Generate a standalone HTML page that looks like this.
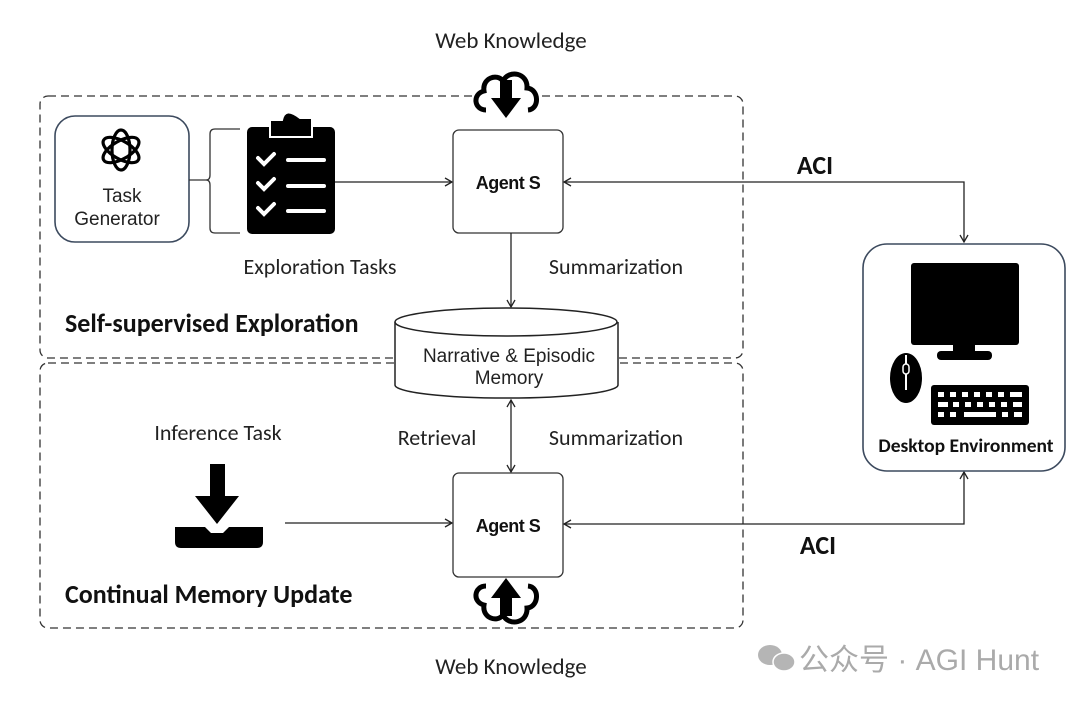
<!DOCTYPE html>
<html><head><meta charset="utf-8"><style>
html,body{margin:0;padding:0;background:#fff}
svg{display:block}
text{font-family:"Liberation Sans",sans-serif}
.c{font-family:"Carlito","Liberation Sans",sans-serif}
</style></head><body>
<svg width="1080" height="703" viewBox="0 0 1080 703" xmlns="http://www.w3.org/2000/svg">
<defs>
<marker id="a" markerWidth="10" markerHeight="10" refX="8" refY="5" orient="auto-start-reverse" markerUnits="userSpaceOnUse">
<path d="M1,1 L8,5 L1,9" fill="none" stroke="#222" stroke-width="1.3"/></marker>
<g id="cloud">
<path d="M-20,16 C-32,16 -34,0 -22,-3 C-24,-16 -9,-21 -3,-13 C3,-25 22,-21 21,-6 C33,-5 34,15 22,16" fill="#fff" stroke="#000" stroke-width="5"/>
</g>
</defs>
<rect x="40" y="96" width="703" height="262" rx="8" fill="none" stroke="#333" stroke-width="1.3" stroke-dasharray="8,5"/>
<rect x="40" y="363" width="703" height="265" rx="8" fill="none" stroke="#333" stroke-width="1.3" stroke-dasharray="8,5"/>

<use href="#cloud" x="506" y="94"/>
<path d="M500,80 h12 v18 h9 l-15,20 l-15,-20 h9 z" fill="#000"/>
<text x="511" y="48" font-size="23" text-anchor="middle" fill="#222" class="c">Web Knowledge</text>

<g transform="translate(506,602) scale(1,-1)"><use href="#cloud"/></g>
<path d="M500,616 h12 v-18 h9 l-15,-20 l-15,20 h9 z" fill="#000"/>
<text x="511" y="674" font-size="23" text-anchor="middle" fill="#222" class="c">Web Knowledge</text>

<rect x="55" y="116" width="134" height="126" rx="20" fill="#fff" stroke="#3c4a5e" stroke-width="1.6"/>
<g transform="translate(121,150)" fill="none" stroke="#000" stroke-width="3.2">
<ellipse rx="9" ry="20"/><ellipse rx="9" ry="20" transform="rotate(60)"/><ellipse rx="9" ry="20" transform="rotate(120)"/>
</g>
<text x="122" y="202" font-size="19" text-anchor="middle" fill="#222">Task</text>
<text x="117" y="225" font-size="19" text-anchor="middle" fill="#222">Generator</text>
<path d="M189,180 H207 M240,129 H215 Q210,129 210,134 V175 Q210,180 206,180 Q210,180 210,185 V228 Q210,233 215,233 H240" fill="none" stroke="#333" stroke-width="1.3"/>
<rect x="247" y="127" width="88" height="107" rx="5" fill="#000"/>
<path d="M270,137 V120 h12 q3,-14 18,-2 h12 v19 z" fill="#000" stroke="#fff" stroke-width="2"/>
<g stroke="#fff" stroke-width="4" fill="none" stroke-linecap="round">
<path d="M258,158 l6,6 l10,-10 M258,183 l6,6 l10,-10 M258,208 l6,6 l10,-10"/>
<path d="M288,160 H324 M288,186 H324 M288,211 H324"/>
</g>
<text x="320" y="274" font-size="22" text-anchor="middle" fill="#222" class="c">Exploration Tasks</text>
<line x1="335" y1="182" x2="452" y2="182" stroke="#222" stroke-width="1.3" marker-end="url(#a)"/>

<rect x="453" y="130" width="110" height="103" rx="6" fill="#fff" stroke="#333" stroke-width="1.3"/>
<text x="508" y="189" font-size="18" font-weight="bold" text-anchor="middle" fill="#111" letter-spacing="-0.5">Agent S</text>
<line x1="511" y1="233" x2="511" y2="307" stroke="#222" stroke-width="1.3" marker-end="url(#a)"/>
<text x="616" y="274" font-size="22" text-anchor="middle" fill="#222" class="c">Summarization</text>
<text x="65" y="332" font-size="26" font-weight="bold" fill="#111" class="c">Self-supervised Exploration</text>

<path d="M395,322 V385 A111,13 0 0 0 618,385 V322" fill="#fff" stroke="#222" stroke-width="1.5"/>
<ellipse cx="506" cy="322" rx="111" ry="14" fill="#fff" stroke="#222" stroke-width="1.5"/>
<text x="509" y="362" font-size="19" text-anchor="middle" fill="#222">Narrative &amp; Episodic</text>
<text x="509" y="384" font-size="19" text-anchor="middle" fill="#222">Memory</text>

<line x1="511" y1="400" x2="511" y2="472" stroke="#222" stroke-width="1.3" marker-start="url(#a)" marker-end="url(#a)"/>
<text x="437" y="445" font-size="22" text-anchor="middle" fill="#222" class="c">Retrieval</text>
<text x="616" y="445" font-size="22" text-anchor="middle" fill="#222" class="c">Summarization</text>

<text x="218" y="440" font-size="22" text-anchor="middle" fill="#222" class="c">Inference Task</text>
<path d="M210,464 h15 v32 h14 l-22,28 l-22,-28 h15 z" fill="#000"/>
<path d="M175,527 h30 l6,6 h12 l6,-6 h34 v15 q0,6 -6,6 h-76 q-6,0 -6,-6 z" fill="#000"/>
<line x1="285" y1="523" x2="452" y2="523" stroke="#222" stroke-width="1.3" marker-end="url(#a)"/>

<rect x="453" y="473" width="110" height="104" rx="6" fill="#fff" stroke="#333" stroke-width="1.3"/>
<text x="508" y="532" font-size="18" font-weight="bold" text-anchor="middle" fill="#111" letter-spacing="-0.5">Agent S</text>
<text x="65" y="603" font-size="26" font-weight="bold" fill="#111" class="c">Continual Memory Update</text>

<path d="M964,242 V182 H564" fill="none" stroke="#222" stroke-width="1.3" marker-start="url(#a)" marker-end="url(#a)"/>
<path d="M964,472 V524 H564" fill="none" stroke="#222" stroke-width="1.3" marker-start="url(#a)" marker-end="url(#a)"/>
<text x="815" y="174" font-size="26" font-weight="bold" text-anchor="middle" fill="#111" class="c">ACI</text>
<text x="818" y="554" font-size="26" font-weight="bold" text-anchor="middle" fill="#111" class="c">ACI</text>

<rect x="863" y="244" width="202" height="227" rx="24" fill="#fff" stroke="#3c4a5e" stroke-width="1.6"/>
<rect x="911" y="263" width="108" height="82" rx="3" fill="#000"/>
<rect x="953" y="345" width="22" height="8" fill="#000"/>
<rect x="937" y="351" width="55" height="9" rx="4" fill="#000"/>
<ellipse cx="906" cy="378" rx="16" ry="25" fill="#000"/>
<line x1="906" y1="355" x2="906" y2="390" stroke="#fff" stroke-width="2"/>
<rect x="903" y="364" width="6" height="10" rx="3" fill="#000" stroke="#fff" stroke-width="1.5"/>
<rect x="931" y="385" width="98" height="40" rx="3" fill="#000"/>
<g fill="#fff">
<rect x="938" y="392" width="6" height="5"/><rect x="950" y="392" width="6" height="5"/><rect x="962" y="392" width="6" height="5"/><rect x="974" y="392" width="6" height="5"/><rect x="986" y="392" width="6" height="5"/><rect x="998" y="392" width="6" height="5"/><rect x="1010" y="392" width="12" height="5"/>
<rect x="938" y="402" width="10" height="5"/><rect x="953" y="402" width="6" height="5"/><rect x="965" y="402" width="6" height="5"/><rect x="977" y="402" width="6" height="5"/><rect x="989" y="402" width="6" height="5"/><rect x="1001" y="402" width="6" height="5"/><rect x="1013" y="402" width="9" height="5"/>
<rect x="938" y="412" width="6" height="5"/><rect x="950" y="412" width="6" height="5"/><rect x="964" y="412" width="32" height="5"/><rect x="1002" y="412" width="6" height="5"/><rect x="1014" y="412" width="8" height="5"/>
</g>
<text x="966" y="452" font-size="19.5" font-weight="bold" text-anchor="middle" fill="#111" class="c">Desktop Environment</text>

<g fill="#b5b5b5">
<ellipse cx="770" cy="655" rx="12" ry="10"/>
<ellipse cx="784" cy="662" rx="11" ry="9" stroke="#fff" stroke-width="1.5"/>
</g>
<text x="799" y="670" font-size="30" fill="#aaa" font-family="'Liberation Sans','Noto Sans CJK SC',sans-serif">公众号 · AGI Hunt</text>
</svg>
</body></html>
